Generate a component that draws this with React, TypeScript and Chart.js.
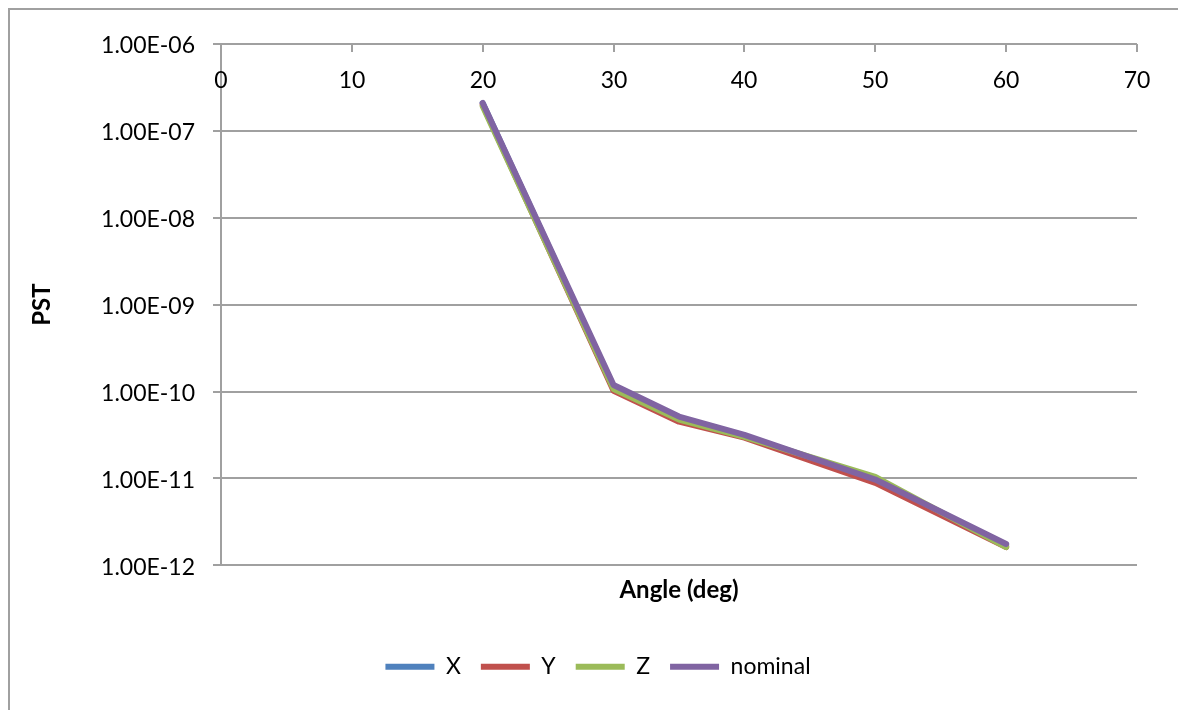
import React, { useEffect, useRef } from "react";
import { Chart, registerables } from "chart.js";

Chart.register(...registerables);

// Angle (deg) at which PST was evaluated
const angles = [20, 30, 35, 40, 50, 60];

// PST per axis
const pstX = [2.08e-7, 1.12e-10, 5.0e-11, 3.1e-11, 9.4e-12, 1.7e-12];
const pstY = [2.0e-7, 1.02e-10, 4.5e-11, 2.95e-11, 8.9e-12, 1.62e-12];
const pstZ = [1.92e-7, 1.07e-10, 4.75e-11, 3.0e-11, 1.04e-11, 1.62e-12];
const pstNominal = [2.1e-7, 1.19e-10, 5.15e-11, 3.17e-11, 9.7e-12, 1.76e-12];

const seriesNames = ["X", "Y", "Z", "nominal"];
const seriesColors = ["#4F81BD", "#C0504D", "#9BBB59", "#8064A2"];
// lower value is painted on top
const seriesOrder = [4, 3, 2, 1];

const xTicks = [0, 10, 20, 30, 40, 50, 60, 70];
const yTickValues = [1e-12, 1e-11, 1e-10, 1e-9, 1e-8, 1e-7, 1e-6];
const yTickLabels = [
  "1.00E-12",
  "1.00E-11",
  "1.00E-10",
  "1.00E-09",
  "1.00E-08",
  "1.00E-07",
  "1.00E-06",
];

const GRID = "#a0a0a0";
const FONT = "Lato";

// The horizontal axis labels sit just under the top edge of the plot.
const topAxisLabels = {
  id: "topAxisLabels",
  afterDraw(chart: any) {
    const { ctx, chartArea, scales } = chart;
    const xs = scales.x;
    ctx.save();
    ctx.strokeStyle = GRID;
    ctx.lineWidth = 2;
    ctx.fillStyle = "#000";
    ctx.font = `23px ${FONT}`;
    ctx.textAlign = "center";
    ctx.textBaseline = "middle";
    xTicks.forEach((v) => {
      const px = Math.round(xs.getPixelForValue(v));
      ctx.beginPath();
      ctx.moveTo(px, chartArea.top);
      ctx.lineTo(px, chartArea.top + 8);
      ctx.stroke();
      ctx.fillText(String(v), px, chartArea.top + 37);
    });
    ctx.restore();
  },
};

export default function App() {
  const canvasRef = useRef<HTMLCanvasElement | null>(null);

  useEffect(() => {
    if (!canvasRef.current) return;
    const values = [pstX, pstY, pstZ, pstNominal];
    const chart = new Chart(canvasRef.current, {
      type: "line",
      data: {
        datasets: values.map((vals, i) => ({
          label: seriesNames[i],
          data: angles.map((a, j) => ({ x: a, y: vals[j] })),
          borderColor: seriesColors[i],
          backgroundColor: seriesColors[i],
          borderWidth: 6,
          borderCapStyle: "round",
          borderJoinStyle: "round",
          pointRadius: 0,
          tension: 0,
          fill: false,
          order: seriesOrder[i],
        })),
      },
      options: {
        responsive: false,
        animation: false,
        layout: { padding: { left: 49, top: 34, right: 41, bottom: 21.8 } },
        scales: {
          x: {
            type: "linear",
            position: "bottom",
            min: 0,
            max: 70,
            ticks: { display: false, stepSize: 10 },
            grid: { display: false },
            border: { display: false },
            title: {
              display: true,
              text: "Angle (deg)",
              color: "#000",
              font: { family: FONT, size: 24, weight: "bold" },
              padding: { top: 0, bottom: 30.8 },
            },
            afterFit: (s: any) => {
              s.height = 69.9;
            },
          },
          y: {
            type: "logarithmic",
            position: "left",
            min: 1e-12,
            max: 1e-6,
            afterBuildTicks: (s: any) => {
              s.ticks = yTickValues.map((v) => ({ value: v }));
            },
            ticks: {
              autoSkip: false,
              color: "#000",
              padding: 18,
              labelOffset: 2,
              font: { family: FONT, size: 23 },
              callback: (_v: any, i: number) => yTickLabels[i],
            },
            grid: { color: GRID, lineWidth: 2, tickLength: 8 },
            border: { display: true, color: GRID, width: 2 },
            title: {
              display: true,
              text: "PST",
              color: "#000",
              font: { family: FONT, size: 24, weight: "bold" },
              padding: { top: -31.4, bottom: 0 },
            },
            afterFit: (s: any) => {
              s.width = 162;
            },
          },
        },
        plugins: {
          tooltip: { enabled: false },
          legend: {
            position: "bottom",
            labels: {
              color: "#000",
              font: { family: FONT, size: 23 },
              usePointStyle: true,
              pointStyle: "line",
              pointStyleWidth: 49,
              padding: 20,
              sort: (a: any, b: any) => a.datasetIndex - b.datasetIndex,
            },
          },
        },
      },
      plugins: [topAxisLabels],
    } as any);
    return () => chart.destroy();
  }, []);

  return (
    <div
      style={{
        position: "fixed",
        left: 8,
        top: 8,
        width: 1170,
        height: 702,
        boxSizing: "border-box",
        borderTop: `2px solid ${GRID}`,
        borderLeft: `2px solid ${GRID}`,
        background: "#fff",
      }}
    >
      <canvas ref={canvasRef} width={1168} height={700} style={{ display: "block" }} />
    </div>
  );
}
